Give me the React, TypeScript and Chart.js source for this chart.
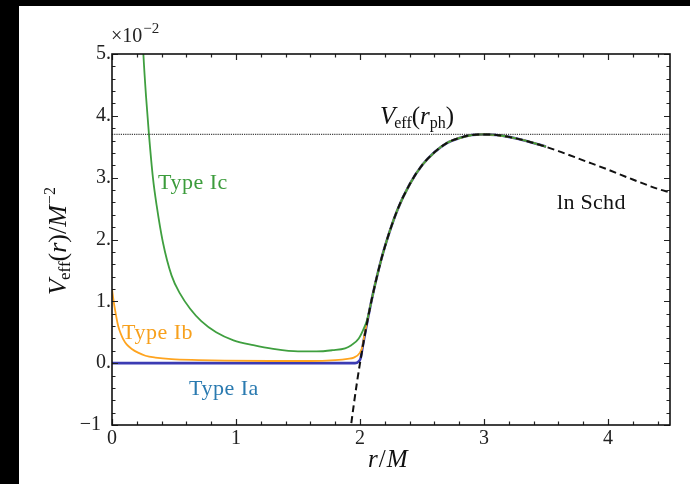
import React, { useEffect, useRef } from "react";
import { Chart, registerables } from "chart.js";

Chart.register(...registerables);

// Schwarzschild potential (dashed), units of 1e-2
const schR = [1.93, 1.95, 1.975, 2.0, 2.05, 2.1, 2.15, 2.2, 2.3, 2.4, 2.5, 2.6, 2.7, 2.8, 2.9, 3.0, 3.1, 3.2, 3.4, 3.6, 3.8, 4.0, 4.2, 4.4, 4.5];
const schV = [-0.97, -0.67, -0.32, 0, 0.58, 1.08, 1.51, 1.88, 2.47, 2.89, 3.2, 3.41, 3.56, 3.64, 3.69, 3.7, 3.69, 3.66, 3.56, 3.43, 3.28, 3.13, 2.97, 2.82, 2.76];

// common tail of the three coloured curves (merged with Schwarzschild)
const tailR = [2.15, 2.2, 2.3, 2.4, 2.5, 2.6, 2.7, 2.8, 2.9, 3.0, 3.1, 3.2, 3.35, 3.5];
const tailV = [1.51, 1.88, 2.47, 2.89, 3.2, 3.41, 3.56, 3.64, 3.69, 3.7, 3.69, 3.66, 3.59, 3.5];

// Type Ia (blue)
const iaR = [0, 1.0, 1.96, 1.99, 2.005, 2.02, 2.05, 2.1];
const iaV = [0, 0, 0, 0.03, 0.08, 0.25, 0.58, 1.08];

// Type Ib (orange)
const ibR = [0, 0.012, 0.024, 0.05, 0.07, 0.09, 0.12, 0.16, 0.21, 0.27, 0.35, 0.48, 0.7, 0.91, 1.3, 1.6, 1.8, 1.9, 1.95, 2.0, 2.02, 2.035, 2.05, 2.1];
const ibV = [1.2, 1.02, 0.87, 0.6, 0.48, 0.39, 0.3, 0.23, 0.17, 0.12, 0.09, 0.065, 0.05, 0.04, 0.035, 0.035, 0.05, 0.07, 0.09, 0.17, 0.27, 0.45, 0.6, 1.08];

// Type Ic (green)
const icR = [0.23, 0.253, 0.275, 0.298, 0.33, 0.36, 0.41, 0.48, 0.55, 0.63, 0.72, 0.84, 0.98, 1.14, 1.3, 1.5, 1.65, 1.78, 1.88, 1.93, 1.99, 2.03, 2.06, 2.1];
const icV = [6.0, 5.0, 4.3, 3.7, 3.0, 2.55, 1.96, 1.42, 1.12, 0.88, 0.68, 0.5, 0.37, 0.29, 0.23, 0.19, 0.19, 0.21, 0.24, 0.29, 0.4, 0.56, 0.72, 1.08];

// photon-sphere level
const phR = [0, 4.5];
const phV = [3.7, 3.7];

const xTicks = [0, 1, 2, 3, 4];
const yTicks = [-1, 0, 1, 2, 3, 4, 5];

const SERIF = "'Liberation Serif', 'Times New Roman', serif";

type Piece = { t: string; size: number; italic?: boolean; dy?: number; dx?: number };

function drawRich(ctx: CanvasRenderingContext2D, pieces: Piece[], x: number, y: number, color: string, spacing = 0) {
  ctx.save();
  ctx.fillStyle = color;
  ctx.textBaseline = "alphabetic";
  ctx.textAlign = "left";
  (ctx as any).letterSpacing = `${spacing}px`;
  let cx = x;
  for (const p of pieces) {
    ctx.font = `${p.italic ? "italic " : ""}${p.size}px ${SERIF}`;
    cx += p.dx || 0;
    ctx.fillText(p.t, cx, y + (p.dy || 0));
    cx += ctx.measureText(p.t).width;
  }
  ctx.restore();
}
function richWidth(ctx: CanvasRenderingContext2D, pieces: Piece[]) {
  let w = 0;
  ctx.save();
  for (const p of pieces) {
    ctx.font = `${p.italic ? "italic " : ""}${p.size}px ${SERIF}`;
    w += ctx.measureText(p.t).width + (p.dx || 0);
  }
  ctx.restore();
  return w;
}

const framePlugin = {
  id: "frame",
  beforeDraw(chart: any) {
    const ctx = chart.ctx as CanvasRenderingContext2D;
    ctx.save();
    ctx.fillStyle = "#000";
    ctx.fillRect(0, 0, chart.width, chart.height);
    ctx.fillStyle = "#fff";
    ctx.fillRect(19, 6, chart.width - 19, chart.height - 6);
    ctx.restore();
  },
  afterDraw(chart: any) {
    const ctx = chart.ctx as CanvasRenderingContext2D;
    const { left, right, top, bottom } = chart.chartArea;
    const xs = chart.scales.x;
    const ys = chart.scales.y;
    ctx.save();
    ctx.strokeStyle = "#222";
    ctx.lineWidth = 1.2;
    // minor/major ticks inside on all four sides
    for (let i = 0; i <= 22; i++) {
      const v = i * 0.2;
      const px = Math.round(xs.getPixelForValue(v)) + 0.5;
      const major = Math.abs(v - Math.round(v)) < 1e-6;
      const len = major ? 6 : 3.5;
      ctx.beginPath();
      ctx.moveTo(px, bottom);
      ctx.lineTo(px, bottom - len);
      ctx.moveTo(px, top);
      ctx.lineTo(px, top + len);
      ctx.stroke();
    }
    for (let i = 0; i <= 30; i++) {
      const v = -1 + i * 0.2;
      const py = Math.round(ys.getPixelForValue(v)) + 0.5;
      const major = Math.abs(v - Math.round(v)) < 1e-6;
      const len = major ? 6 : 3.5;
      ctx.beginPath();
      ctx.moveTo(left, py);
      ctx.lineTo(left + len, py);
      ctx.moveTo(right, py);
      ctx.lineTo(right - len, py);
      ctx.stroke();
    }
    // frame
    ctx.lineWidth = 1.6;
    ctx.strokeStyle = "#111";
    ctx.strokeRect(left, top, right - left, bottom - top);
    ctx.restore();

    // multiplier
    drawRich(ctx, [
      { t: "×10", size: 20 },
      { t: "−2", size: 15, dy: -9, dx: 1 },
    ], left - 1, 42, "#222");

    // V_eff(r_ph)
    drawRich(ctx, [
      { t: "V", size: 25, italic: true },
      { t: "eff", size: 16, dy: 4, dx: -1 },
      { t: "(", size: 25 },
      { t: "r", size: 25, italic: true },
      { t: "ph", size: 16, dy: 4 },
      { t: ")", size: 25 },
    ], 380, 124, "#111");

    // ln Schd
    drawRich(ctx, [{ t: "ln Schd", size: 22 }], 557, 209, "#111", 0.3);

    // type labels
    drawRich(ctx, [{ t: "Type Ic", size: 22 }], 158, 189, "#3c9c3c", 0.5);
    drawRich(ctx, [{ t: "Type Ib", size: 22 }], 122, 339, "#f7a01c", 0.5);
    drawRich(ctx, [{ t: "Type Ia", size: 22 }], 189, 395, "#2a7ab0", 0.5);

    // x title
    drawRich(ctx, [
      { t: "r", size: 25, italic: true },
      { t: "/", size: 25, dx: 1 },
      { t: "M", size: 25, italic: true, dx: 1 },
    ], 368, 467, "#111");

    // y title, rotated
    const yt: Piece[] = [
      { t: "V", size: 26, italic: true },
      { t: "eff", size: 17, dy: 4, dx: -1 },
      { t: "(", size: 26 },
      { t: "r", size: 26, italic: true },
      { t: ")", size: 26 },
      { t: "/", size: 26 },
      { t: "M", size: 26, italic: true },
      { t: "−2", size: 16, dy: -11, dx: 1 },
    ];
    const w = richWidth(ctx, yt);
    ctx.save();
    ctx.translate(66, 241);
    ctx.rotate(-Math.PI / 2);
    drawRich(ctx, yt, -w / 2, 0, "#111");
    ctx.restore();
  },
};

function pts(r: number[], v: number[]) {
  return r.map((x, i) => ({ x, y: v[i] }));
}

export default function App() {
  const ref = useRef<HTMLCanvasElement | null>(null);
  useEffect(() => {
    document.body.style.margin = "0";
    document.body.style.background = "#000";
    const canvas = ref.current;
    if (!canvas) return;
    const common = { pointRadius: 0, cubicInterpolationMode: "monotone" as const };
    const chart = new Chart(canvas, {
      type: "line",
      data: {
        datasets: [
          {
            label: "Type Ia",
            data: pts(iaR.concat(tailR), iaV.concat(tailV)),
            borderColor: "#3b3bb3",
            borderWidth: 2.6,
            order: 5,
            ...common,
          },
          {
            label: "Type Ib",
            data: pts(ibR.concat(tailR), ibV.concat(tailV)),
            borderColor: "#ffa41f",
            borderWidth: 1.8,
            order: 4,
            ...common,
          },
          {
            label: "Type Ic",
            data: pts(icR.concat(tailR), icV.concat(tailV)),
            borderColor: "#3f9f3f",
            borderWidth: 1.8,
            order: 3,
            ...common,
          },
          {
            label: "Schwarzschild",
            data: pts(schR, schV),
            borderColor: "#111",
            borderWidth: 2,
            borderDash: [7, 4],
            order: 1,
            ...common,
          },
          {
            label: "V_eff(r_ph)",
            data: pts(phR, phV),
            borderColor: "#444",
            borderWidth: 1.4,
            borderDash: [1.2, 1],
            pointRadius: 0,
            order: 2,
          },
        ],
      },
      options: {
        responsive: false,
        animation: false,
        events: [],
        layout: { padding: { left: 0, top: 54, right: 20, bottom: 0 } },
        plugins: { legend: { display: false }, tooltip: { enabled: false } },
        scales: {
          x: {
            type: "linear",
            min: 0,
            max: 4.5,
            afterFit: (s: any) => {
              s.height = 59;
            },
            afterBuildTicks: (s: any) => {
              s.ticks = xTicks.map((v) => ({ value: v }));
            },
            grid: { display: false, drawTicks: false },
            border: { display: false },
            ticks: {
              padding: 2,
              color: "#222",
              font: { family: SERIF, size: 20 },
              callback: (v: any) => String(v),
            },
          },
          y: {
            type: "linear",
            min: -1,
            max: 5,
            afterFit: (s: any) => {
              s.width = 112;
            },
            afterBuildTicks: (s: any) => {
              s.ticks = yTicks.map((v) => ({ value: v }));
            },
            grid: { display: false, drawTicks: false },
            border: { display: false },
            ticks: {
              padding: 1,
              color: "#222",
              font: { family: SERIF, size: 20 },
              callback: (v: any) => (v === -1 ? "−1\u2002" : `${v}.`),
            },
          },
        },
      },
      plugins: [framePlugin],
    });
    return () => chart.destroy();
  }, []);
  return <canvas ref={ref} width={690} height={484} style={{ display: "block" }} />;
}
